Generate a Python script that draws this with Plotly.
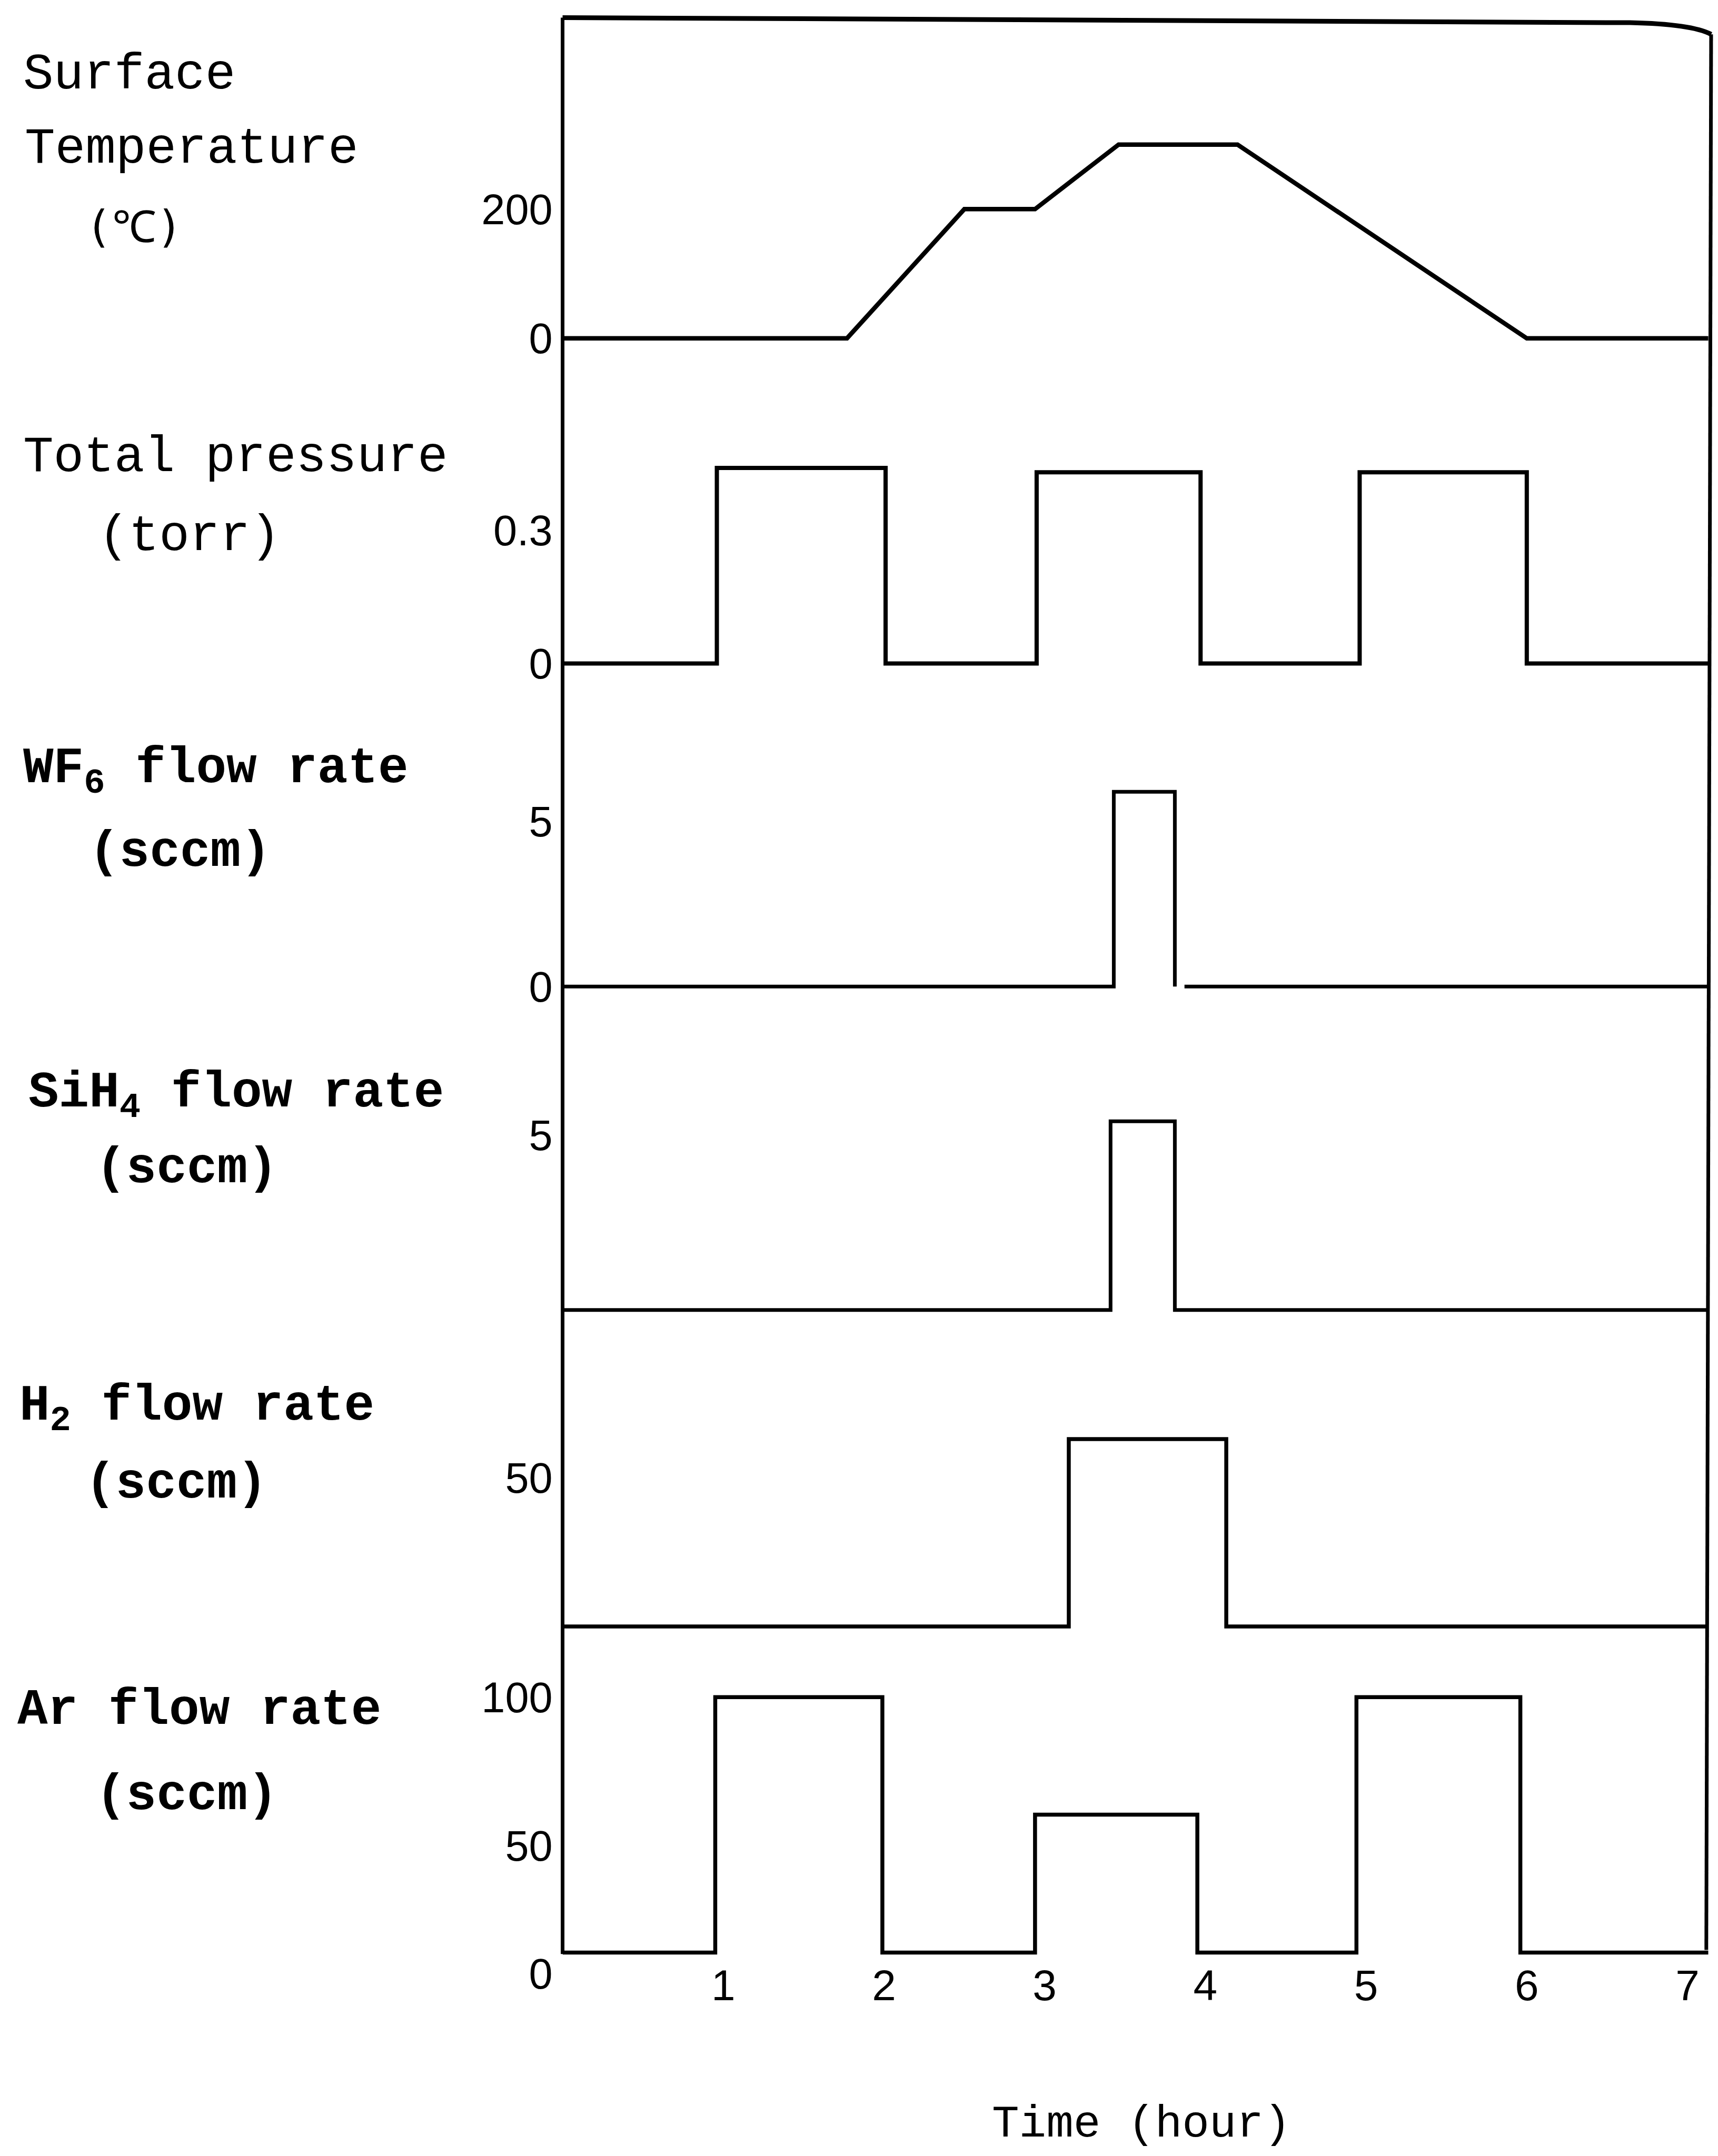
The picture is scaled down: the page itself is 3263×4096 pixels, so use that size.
import plotly.graph_objects as go

# ---------------------------------------------------------------- data
# Time in hours; the record runs a little past the last labelled hour.
T_END = 7.13
time_ticks = [1, 2, 3, 4, 5, 6, 7]

# Surface temperature (deg C): piecewise-linear ramp / hold profile
temp_t = [0, 1.77, 2.50, 2.94, 3.46, 4.20, 6.00, T_END]
temp_v = [0, 0, 200, 200, 300, 300, 0, 0]
temp_ticks = [0, 200]

# Step profiles: switching times and the level held from each time on
press_t = [0, 0.96, 2.01, 2.95, 3.97, 4.96, 6.00, T_END]
press_v = [0, 0.44, 0, 0.43, 0, 0.43, 0, 0]
press_ticks = [0, 0.3]

wf6_t = [0, 3.43, 3.81, None, 3.87, T_END]
wf6_v = [0, 5.9, 0, None, 0, 0]
wf6_ticks = [0, 5]

sih4_t = [0, 3.41, 3.81, T_END]
sih4_v = [0, 5.4, 0, 0]
sih4_ticks = [5]

h2_t = [0, 3.15, 4.13, T_END]
h2_v = [0, 63, 0, 0]
h2_ticks = [50]

ar_t = [0, 0.95, 1.99, 2.94, 3.95, 4.94, 5.96, T_END]
ar_v = [0, 100, 0, 54, 0, 100, 0, 0]
ar_ticks_upper = [100]
ar_ticks_lower = [0, 50]

panel_labels = [
    ["Surface", "Temperature", "(℃)"],
    ["Total pressure", "(torr)"],
    ["<b>WF<sub>6</sub> flow rate</b>", "<b>(sccm)</b>"],
    ["<b>SiH<sub>4</sub> flow rate</b>", "<b>(sccm)</b>"],
    ["<b>H<sub>2</sub> flow rate</b>", "<b>(sccm)</b>"],
    ["<b>Ar flow rate</b>", "<b>(sccm)</b>"],
]
x_title = "Time (hour)"

# ---------------------------------------------------------------- layout
W, H = 3263, 4096
S = W / 1249.0  # design-grid unit -> output pixel


def fx(u):
    return u * S / W


def fy(u):
    return 1 - u * S / H


X_LEFT, X_RIGHT, Y_TOP = 409.0, 1242.0, 12.8
BASELINES = [246.0, 482.5, 717.4, 952.6, 1182.8, 1419.9]
UNIT = [0.4695, 323.3, 24.0, 25.4, 2.164, 1.857]  # grid units per data unit
PAD = 6.0
LINE_W = [8.5, 8.0, 7.0, 7.0, 7.5, 7.5]

# label anchor points (x, vertical centre) in grid units, with x anchor
LABEL_POS = [
    [(16.0, 54.5, "left"), (17.3, 108.4, "left"), (97.5, 165.0, "center")],
    [(16.0, 333.0, "left"), (70.7, 390.3, "left")],
    [(16.0, 561.0, "left"), (64.1, 620.0, "left")],
    [(20.0, 797.0, "left"), (68.9, 849.8, "left")],
    [(13.3, 1024.7, "left"), (61.4, 1079.1, "left")],
    [(12.0, 1243.9, "left"), (68.9, 1305.9, "left")],
]
LABEL_FONT = [[96, 96, 84], [96, 96], [96, 96], [96, 96], [96, 96], [96, 96]]

MONO = "Liberation Mono, Courier New, monospace"
MONO_SYM = "DejaVu Sans Mono, Liberation Mono, monospace"
SANS = "Liberation Sans, Arial, sans-serif"
NARROW = "Liberation Sans Narrow, Arial Narrow, Liberation Sans, sans-serif"

series = [
    (temp_t, temp_v, "linear", temp_ticks),
    (press_t, press_v, "hv", press_ticks),
    (wf6_t, wf6_v, "hv", wf6_ticks),
    (sih4_t, sih4_v, "hv", sih4_ticks),
    (h2_t, h2_v, "hv", h2_ticks),
    (ar_t, ar_v, "hv", ar_ticks_upper),
]

fig = go.Figure()
layout = {}
for i, (t, v, shape, ticks) in enumerate(series):
    yname = "y" if i == 0 else f"y{i + 1}"
    fig.add_trace(go.Scatter(
        x=t, y=v, mode="lines", xaxis="x", yaxis=yname,
        line=dict(color="black", width=LINE_W[i], shape=shape),
        connectgaps=False, showlegend=False, hoverinfo="skip"))
    top = Y_TOP if i == 0 else BASELINES[i - 1]
    bottom = BASELINES[i] + PAD
    layout["yaxis" if i == 0 else f"yaxis{i + 1}"] = dict(
        domain=[fy(bottom), fy(top)],
        range=[-PAD / UNIT[i], (BASELINES[i] - top) / UNIT[i]],
        anchor="x", showgrid=False, zeroline=False, showline=False,
        ticks="", tickmode="array", tickvals=ticks,
        ticktext=[str(tv) for tv in ticks],
        tickfont=dict(family=SANS, size=81, color="black"),
        ticklabelstandoff=18, automargin=False, fixedrange=True)

# second tick scale on the Ar panel, its labels set a little lower
ar_range = layout["yaxis6"]["range"]
fig.add_trace(go.Scatter(x=[], y=[], xaxis="x", yaxis="y7",
                         showlegend=False, hoverinfo="skip"))
layout["yaxis7"] = dict(
    overlaying="y6", range=ar_range, anchor="x", side="left",
    showgrid=False, zeroline=False, showline=False, ticks="",
    tickmode="array", tickvals=ar_ticks_lower,
    ticktext=[str(tv) for tv in ar_ticks_lower],
    tickfont=dict(family=SANS, size=81, color="black"),
    ticklabelstandoff=18, ticklabelshift=40, automargin=False,
    fixedrange=True)

layout["xaxis"] = dict(
    domain=[fx(X_LEFT), fx(X_RIGHT)], range=[0, T_END], anchor="y6",
    showgrid=False, zeroline=False, showline=False, ticks="",
    tickmode="array", tickvals=time_ticks,
    ticktext=[str(tv) for tv in time_ticks],
    tickfont=dict(family=NARROW, size=82, color="black"),
    ticklabelstandoff=-8, automargin=False, fixedrange=True)

annotations = []
for labels, positions, sizes in zip(panel_labels, LABEL_POS, LABEL_FONT):
    for text, (lx, ly, anchor), fs in zip(labels, positions, sizes):
        annotations.append(dict(
            text=text, x=fx(lx), y=fy(ly), xref="paper", yref="paper",
            xanchor=anchor, yanchor="middle", showarrow=False,
            font=dict(family=MONO if "℃" not in text else MONO_SYM,
                      size=fs, color="black")))
annotations.append(dict(
    text=x_title, x=fx(830), y=fy(1545.0), xref="paper", yref="paper",
    xanchor="center", yanchor="middle", showarrow=False,
    font=dict(family=MONO, size=86, color="black")))

frame = dict(color="black", width=7)
shapes = [
    # left axis
    dict(type="line", xref="paper", yref="paper",
         x0=fx(X_LEFT), y0=fy(Y_TOP), x1=fx(X_LEFT), y1=fy(1421.0), line=frame),
    # top border, bending down into the right edge
    dict(type="path", xref="paper", yref="paper",
         path=(f"M {fx(X_LEFT)},{fy(Y_TOP)} L {fx(1185)},{fy(16.5)} "
               f"Q {fx(1230)},{fy(17.5)} {fx(1244)},{fy(25)}"),
         line=dict(color="black", width=9)),
    # right edge
    dict(type="line", xref="paper", yref="paper",
         x0=fx(1244), y0=fy(25), x1=fx(1240.5), y1=fy(1418), line=frame),
]

fig.update_layout(
    width=W, height=H, margin=dict(l=0, r=0, t=0, b=0, autoexpand=False),
    paper_bgcolor="white", plot_bgcolor="rgba(0,0,0,0)",
    showlegend=False, annotations=annotations, shapes=shapes,
    **layout)

fig.write_html("out.html")
